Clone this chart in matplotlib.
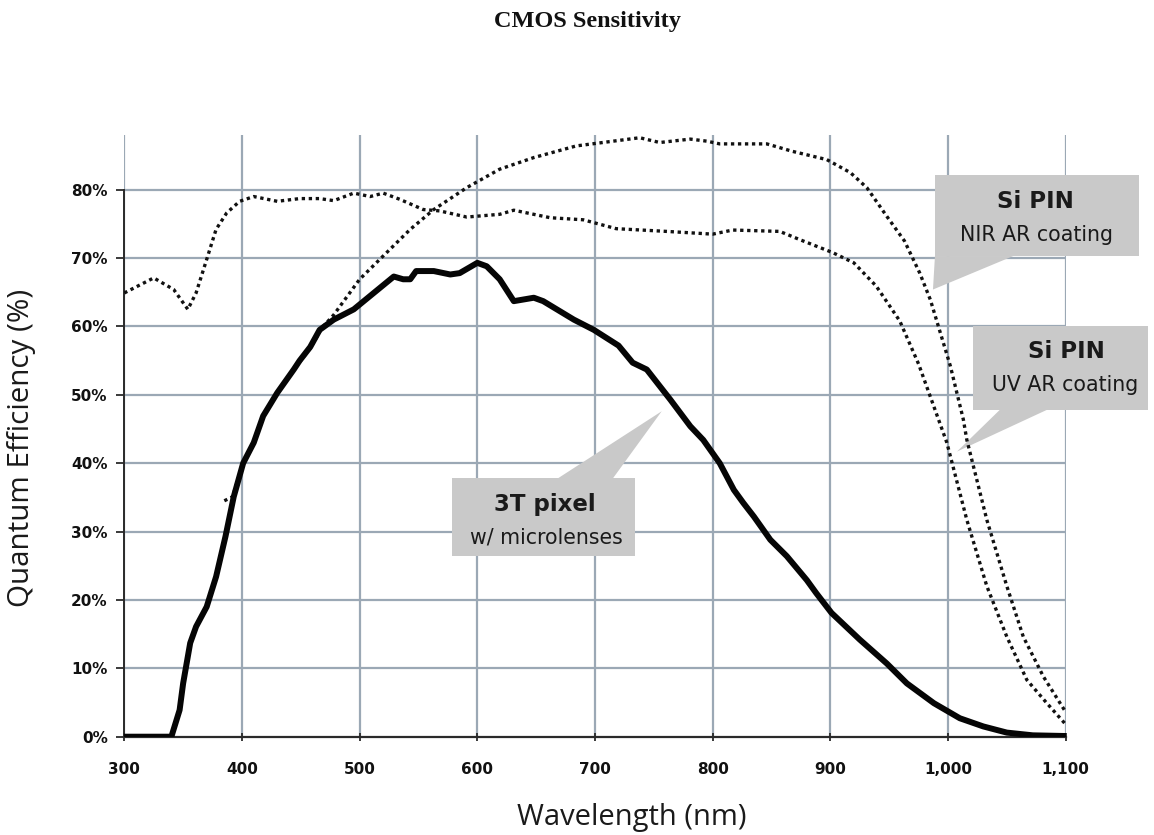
import matplotlib
matplotlib.use("Agg")
import matplotlib.pyplot as plt
from matplotlib.patches import Polygon

# Quantum efficiency curves (wavelength in nm, QE in %)
wl_3t = [300, 340, 347, 350, 356, 361, 370, 378, 386, 393, 401, 410, 418, 430, 444,
         449, 458, 466, 478, 495, 512, 529, 537, 543, 548, 563, 577, 585, 600, 608,
         619, 631, 648, 656, 682, 699, 720, 732, 744, 764, 781, 792, 806, 818, 826,
         835, 849, 863, 880, 888, 901, 925, 948, 965, 988, 1010, 1030, 1050, 1072, 1100]
qe_3t = [0.0, 0.0, 3.9, 7.8, 13.7, 16.1, 19.0, 23.4, 29.3, 35.1, 40.0, 43.0, 46.9, 50.3, 53.7,
         55.0, 57.0, 59.5, 61.0, 62.5, 64.9, 67.3, 66.9, 66.9, 68.1, 68.1, 67.6, 67.8, 69.3, 68.8,
         66.9, 63.7, 64.2, 63.7, 61.0, 59.5, 57.2, 54.7, 53.7, 49.3, 45.4, 43.4, 40.0, 36.1, 34.2,
         32.2, 28.8, 26.4, 22.9, 21.0, 18.1, 14.2, 10.7, 7.8, 4.9, 2.7, 1.5, 0.6, 0.2, 0.1]

wl_nir = [385, 392, 401, 410, 418, 430, 444, 458, 468, 478, 500, 520, 543, 563, 591,
          619, 648, 684, 738, 755, 781, 795, 806, 846, 868, 897, 917, 931, 948, 963,
          976, 985, 1002, 1013, 1016, 1033, 1050, 1064, 1081, 1100]
qe_nir = [34.5, 35.1, 40.0, 43.0, 46.9, 50.3, 53.7, 56.8, 59.8, 61.7, 66.9, 70.3, 74.2, 77.1, 80.3,
          83.0, 84.7, 86.4, 87.6, 86.9, 87.4, 87.1, 86.7, 86.7, 85.6, 84.4, 82.5, 80.3, 76.1, 72.5,
          67.8, 63.9, 54.2, 46.4, 43.4, 31.7, 22.0, 14.6, 8.8, 3.6]

wl_uv = [300, 325, 342, 354, 361, 370, 378, 387, 398, 410, 430, 449, 466, 478, 495,
         509, 520, 534, 554, 568, 591, 619, 631, 662, 690, 718, 761, 800, 817, 857,
         874, 902, 920, 939, 959, 975, 999, 1016, 1033, 1050, 1067, 1084, 1100]
qe_uv = [64.9, 67.1, 65.4, 62.5, 64.9, 69.8, 74.2, 76.6, 78.3, 79.0, 78.3, 78.7, 78.7, 78.4, 79.5,
         79.0, 79.5, 78.6, 77.1, 76.9, 76.0, 76.4, 77.0, 75.9, 75.6, 74.3, 73.9, 73.5, 74.1, 73.9,
         72.7, 70.8, 69.3, 65.9, 60.8, 54.5, 43.0, 31.7, 22.0, 14.6, 8.3, 4.9, 1.8]

x_ticks = [300, 400, 500, 600, 700, 800, 900, 1000, 1100]
x_tick_labels = ["300", "400", "500", "600", "700", "800", "900", "1,000", "1,100"]
y_ticks = [0, 10, 20, 30, 40, 50, 60, 70, 80]
y_tick_labels = ["0%", "10%", "20%", "30%", "40%", "50%", "60%", "70%", "80%"]

callout_titles = ["Si PIN", "Si PIN", "3T pixel"]
callout_subtitles = ["NIR AR coating", "UV AR coating", "w/ microlenses"]

title_text = "CMOS Sensitivity"
x_label = "Wavelength (nm)"
y_label = "Quantum Efficiency (%)"

W, H = 1154, 835
fig = plt.figure(figsize=(W / 100, H / 100), dpi=100)
ax = fig.add_axes([124.3 / W, 1 - 736.7 / H, (1065.7 - 124.3) / W, (736.7 - 135) / H])

grid_color = "#9ba8b5"
ax.set_xlim(300, 1100)
ax.set_ylim(0, 88)
ax.set_axisbelow(True)
for xv in x_ticks:
    ax.axvline(xv, color=grid_color, lw=1.6, zorder=0.5)
for yv in y_ticks[1:]:
    ax.axhline(yv, color=grid_color, lw=1.6, zorder=0.5)

for side in ("top", "right"):
    ax.spines[side].set_visible(False)
ax.spines["left"].set_bounds(0, 80)
ax.spines["left"].set_color("#2a2a2a")
ax.spines["bottom"].set_color("#2a2a2a")
ax.spines["left"].set_linewidth(1.4)
ax.spines["bottom"].set_linewidth(1.6)

ax.set_xticks(x_ticks)
ax.set_xticklabels(x_tick_labels)
ax.set_yticks(y_ticks)
ax.set_yticklabels(y_tick_labels)
ax.tick_params(axis="x", direction="inout", length=6, width=1.3, color="#2a2a2a", pad=15,
               labelsize=11)
ax.tick_params(axis="y", direction="out", length=6, width=1.3, color="#2a2a2a", pad=6,
               labelsize=11)
for lab in ax.get_xticklabels() + ax.get_yticklabels():
    lab.set_fontfamily("DejaVu Sans")
    lab.set_fontweight("bold")
    lab.set_color("#111111")

# Callout shapes: box (x0, x1, y0, y1) and pointer triangle, in data units
box_color = "#c9c9c9"
callouts = [
    ((988.9, 1162.0, 70.3, 82.1), [(988.9, 70.3), (1055.5, 70.3), (987.2, 65.4)],
     (1074.0, 78.3), (1075.5, 73.4)),
    ((1021.0, 1170.0, 47.8, 60.0), [(1044.0, 47.8), (1084.0, 47.8), (1007.6, 41.7)],
     (1101.0, 56.4), (1099.5, 51.4)),
    ((578.2, 734.0, 26.4, 37.8), [(668.6, 37.8), (715.3, 37.8), (756.7, 47.6)],
     (657.5, 33.9), (658.4, 29.2)),
]
for (bx, tail, tpos, spos), title, sub in zip(callouts, callout_titles, callout_subtitles):
    x0, x1, y0, y1 = bx
    ax.add_patch(Polygon([(x0, y0), (x1, y0), (x1, y1), (x0, y1)], closed=True,
                         facecolor=box_color, edgecolor="none", zorder=1.5, clip_on=False))
    ax.add_patch(Polygon(tail, closed=True, facecolor=box_color, edgecolor="none",
                         zorder=1.5, clip_on=False))
    ax.text(tpos[0], tpos[1], title, ha="center", va="center", fontsize=16.5,
            fontweight="bold", family="DejaVu Sans", color="#1a1a1a", zorder=3, clip_on=False)
    ax.text(spos[0], spos[1], sub, ha="center", va="center", fontsize=14.8,
            family="DejaVu Sans", color="#1a1a1a", zorder=3, clip_on=False)

dot_style = dict(color="#111111", lw=2.4, linestyle=(0, (1, 1.1)), zorder=3)
ax.plot(wl_uv, qe_uv, **dot_style)
ax.plot(wl_nir, qe_nir, **dot_style)
ax.plot(wl_3t, qe_3t, color="#050505", lw=4.3, solid_joinstyle="round",
        solid_capstyle="round", zorder=4)

fig.text(587 / W, 1 - 22 / H, title_text, ha="center", va="center", fontsize=17.5,
         fontweight="bold", family="Liberation Serif", color="#111111")
fig.text(632 / W, 1 - 825 / H, x_label, ha="center", va="baseline", fontsize=21,
         family="Open Sans", color="#1a1a1a")
fig.text(22 / W, 1 - 448 / H, y_label, ha="center", va="center", rotation=90, fontsize=21.3,
         family="Open Sans", color="#1a1a1a")

fig.savefig("out.png", dpi=100)
